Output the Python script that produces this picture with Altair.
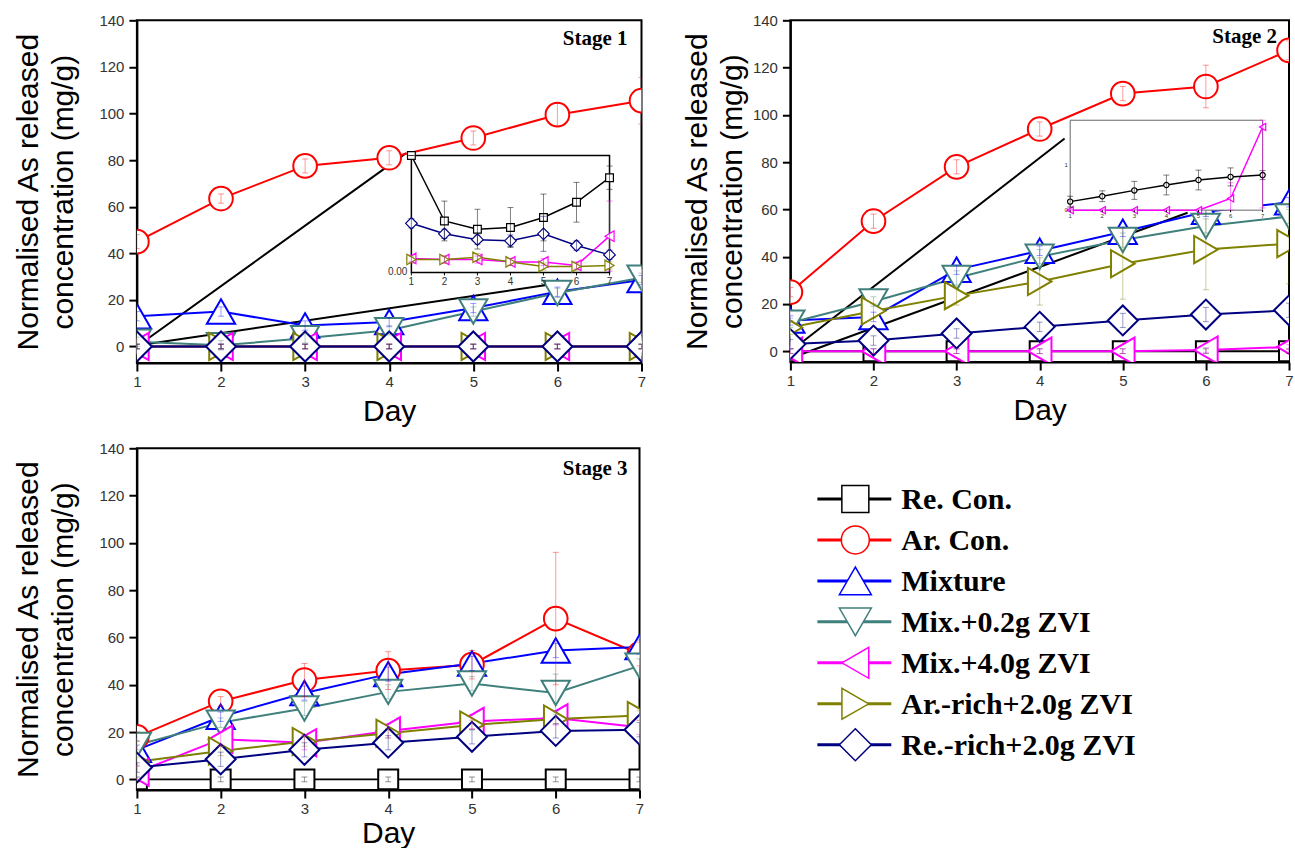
import altair as alt
import pandas as pd

# ---------------------------------------------------------------- data
DAYS = [1, 2, 3, 4, 5, 6, 7]
SERIES = ["Re. Con.", "Ar. Con.", "Mixture", "Mix.+0.2g ZVI",
          "Mix.+4.0g ZVI", "Ar.-rich+2.0g ZVI", "Re.-rich+2.0g ZVI"]
COLORS = ["#000000", "#ff0000", "#0000ff", "#3f807c",
          "#ff00ff", "#808000", "#000080"]
SHAPES = ["square", "circle", "triangle-up", "triangle-down",
          "triangle-left", "triangle-right", "diamond"]
MARKER_SIZES = [400, 560, 800, 800, 740, 740, 900]
LEGEND_SIZES = [729, 784, 1024, 1024, 960, 960, 1024]

Y_TICKS = [0, 20, 40, 60, 80, 100, 120, 140]
Y_TITLE = ["Normalised As released", "concentration (mg/g)"]
X_TITLE = "Day"

STAGE1 = {
    "Re. Con.":          [0, 0, 0, 0, 0, 0, 0],
    "Ar. Con.":          [45, 63.5, 77.5, 81, 89.5, 99.5, 105.5],
    "Mixture":           [13, 15, 9, 10.5, 16.5, 23.5, 28.5],
    "Mix.+0.2g ZVI":     [2, 0.5, 3.5, 7, 15, 23, 29.5],
    "Mix.+4.0g ZVI":     [0, 0, 0, 0, 0, 0, 0],
    "Ar.-rich+2.0g ZVI": [0, 0, 0, 0, 0, 0, 0],
    "Re.-rich+2.0g ZVI": [0, 0, 0, 0, 0, 0, 0],
}
STAGE1_ERR = {
    "Re. Con.":          [1, 1, 1, 1, 1, 1, 1],
    "Ar. Con.":          [3, 2, 3, 3, 3, 5, 10],
    "Mixture":           [2, 2, 2, 2, 2, 2, 2],
    "Mix.+0.2g ZVI":     [2, 2, 2, 2, 2, 2, 2],
    "Mix.+4.0g ZVI":     [1, 1, 1, 1, 1, 1, 1],
    "Ar.-rich+2.0g ZVI": [1, 1, 1, 1, 1, 1, 1],
    "Re.-rich+2.0g ZVI": [1, 1, 1, 1, 1, 1, 1],
}

STAGE2 = {
    "Re. Con.":          [0, 0, 0, 0, 0, 0, 0],
    "Ar. Con.":          [25, 55, 78, 94, 109, 112, 127.3],
    "Mixture":           [13, 14.5, 34.5, 42.5, 50.5, 59, 63],
    "Mix.+0.2g ZVI":     [12, 21, 31, 40, 47, 53, 57],
    "Mix.+4.0g ZVI":     [0, 0, 0, 0, 0, 0.5, 1.8],
    "Ar.-rich+2.0g ZVI": [10, 17, 23.5, 29.5, 37, 43, 45.5],
    "Re.-rich+2.0g ZVI": [3, 4.5, 7.5, 10.3, 13, 15.5, 17.3],
}
STAGE2_ERR = {
    "Re. Con.":          [1, 1, 1, 1, 1, 1, 1],
    "Ar. Con.":          [2, 3, 3, 3, 3, 9, 4],
    "Mixture":           [2, 2, 2, 2, 2, 2, 2],
    "Mix.+0.2g ZVI":     [2, 2, 3, 3, 3, 3, 3],
    "Mix.+4.0g ZVI":     [1, 1, 1, 1, 1, 1, 1],
    "Ar.-rich+2.0g ZVI": [3, 3, 4, 10, 15, 17, 17],
    "Re.-rich+2.0g ZVI": [2, 2, 2, 2, 3, 3, 3],
}

STAGE3 = {
    "Re. Con.":          [0, 0, 0, 0, 0, 0, 0],
    "Ar. Con.":          [18, 33, 42, 46, 48.5, 68, 53],
    "Mixture":           [12.5, 26.5, 36.5, 44.5, 49, 54.5, 56],
    "Mix.+0.2g ZVI":     [14.5, 24, 30, 37, 40.5, 36.5, 48],
    "Mix.+4.0g ZVI":     [3, 17, 15.5, 20.5, 24.5, 26, 22],
    "Ar.-rich+2.0g ZVI": [7.5, 12, 16, 19.5, 23, 25.5, 27],
    "Re.-rich+2.0g ZVI": [5, 8.5, 12.5, 15.5, 18, 20.5, 21],
}
STAGE3_ERR = {
    "Re. Con.":          [1, 1, 1, 1, 1, 1, 1],
    "Ar. Con.":          [2, 2, 7, 8, 6, 28, 5],
    "Mixture":           [2, 2, 3, 3, 3, 3, 3],
    "Mix.+0.2g ZVI":     [2, 2, 3, 3, 3, 8, 3],
    "Mix.+4.0g ZVI":     [3, 3, 3, 3, 3, 3, 3],
    "Ar.-rich+2.0g ZVI": [2, 2, 2, 2, 2, 2, 2],
    "Re.-rich+2.0g ZVI": [2, 3, 3, 3, 3, 3, 3],
}

# enlarged low-concentration views (insets)
INSET1 = {
    "Mix.+4.0g ZVI":     [0.12, 0.11, 0.11, 0.09, 0.09, 0.06, 0.31],
    "Ar.-rich+2.0g ZVI": [0.11, 0.11, 0.13, 0.09, 0.05, 0.05, 0.06],
    "Re.-rich+2.0g ZVI": [0.42, 0.33, 0.28, 0.27, 0.33, 0.23, 0.15],
    "Re. Con.":          [2.1, 0.44, 0.37, 0.385, 0.47, 0.60, 0.81],
}
INSET1_ERR = {
    "Mix.+4.0g ZVI":     [0.03, 0.03, 0.03, 0.03, 0.03, 0.03, 0.3],
    "Ar.-rich+2.0g ZVI": [0.03, 0.03, 0.03, 0.03, 0.03, 0.03, 0.03],
    "Re.-rich+2.0g ZVI": [0.04, 0.04, 0.04, 0.05, 0.15, 0.04, 0.04],
    "Re. Con.":          [0, 0.17, 0.17, 0.17, 0.2, 0.17, 0.1],
}
INSET2 = {
    "Mix.+4.0g ZVI": [0.0, 0.0, 0.0, 0.0, 0.0, 0.26, 1.85],
    "Re. Con.":      [0.19, 0.31, 0.44, 0.56, 0.67, 0.74, 0.78],
}
INSET2_ERR = {
    "Mix.+4.0g ZVI": [0.02, 0.02, 0.02, 0.02, 0.02, 0.35, 1.8],
    "Re. Con.":      [0.12, 0.12, 0.2, 0.22, 0.22, 0.2, 0.1],
}

# guide lines from the origin towards the enlarged view
CONNECT1 = {"x": [1, 1], "y": [0, 0.4], "x2": [4.2, 5.99], "y2": [83, 27]}
CONNECT2 = {"x": [1, 1], "y": [0, -3], "x2": [4.3, 5.78], "y2": [90, 58.6]}

# ---------------------------------------------------------------- helpers
AXIS_STYLE = dict(
    tickSize=8, tickWidth=2, tickColor="black",
    domainColor="black", domainWidth=2, grid=False,
    labelFont="Liberation Sans", labelFontSize=15, labelColor="#333333",
    labelFlush=False, labelOverlap=False,
    titleFont="Liberation Sans", titleFontSize=30, titleFontWeight="normal",
    titleColor="black",
)


def series_frame(values, errors, shapes=None, size_factor=1.0):
    rows = []
    for name, vals in values.items():
        k = SERIES.index(name)
        for d, v, e in zip(DAYS, vals, errors[name]):
            rows.append(dict(series=name, k=k, day=d, value=v, lo=v - e, hi=v + e,
                             color=COLORS[k],
                             shape=(shapes or {}).get(name, SHAPES[k]),
                             msize=MARKER_SIZES[k] * size_factor))
    return pd.DataFrame(rows)


def data_layers(df, xs, ys, line_w, pt_w, err_op, xaxis=None, yaxis=None):
    X = alt.X("day:Q", scale=xs, axis=xaxis)
    Y = alt.Y("value:Q", scale=ys, axis=yaxis)
    Xn = alt.X("day:Q", scale=xs, axis=None)
    color = alt.Color("color:N", scale=None)
    stroke = alt.Stroke("color:N", scale=None)
    lines = alt.Chart(df).mark_line(strokeWidth=line_w, clip=True).encode(
        x=X, y=Y, color=color, detail="series:N", order=alt.Order("day:Q"))
    pts = alt.Chart(df).mark_point(filled=True, fill="white", opacity=1,
                                   strokeWidth=pt_w, clip=True).encode(
        x=Xn, y=alt.Y("value:Q", scale=ys, axis=None), stroke=stroke,
        shape=alt.Shape("shape:N", scale=None),
        size=alt.Size("msize:Q", scale=None), order=alt.Order("k:Q"))
    err = alt.Chart(df).mark_rule(strokeWidth=1, opacity=err_op, clip=True).encode(
        x=Xn, y=alt.Y("lo:Q", scale=ys, axis=None), y2="hi:Q", color=color)
    caps = alt.Chart(df).transform_fold(["lo", "hi"], as_=["end", "yv"]).mark_point(
        shape="M-1,0L1,0", size=36, strokeWidth=1, opacity=err_op, filled=False,
        clip=True).encode(
        x=Xn, y=alt.Y("yv:Q", scale=ys, axis=None), stroke=stroke)
    return [lines, pts, err, caps]


def inset_layers(ins):
    ixs = alt.Scale(domain=[DAYS[0], DAYS[-1]], range=ins["xr"], nice=False, zero=False)
    iys = alt.Scale(domain=ins["ydom"], range=ins["yr"], nice=False, zero=False, clamp=True)
    box = pd.DataFrame({"x": [DAYS[0]], "x2": [DAYS[-1]],
                        "y": [ins["ydom"][0]], "y2": [ins["ydom"][1]]})
    frame = alt.Chart(box).mark_rect(fill="white", stroke=ins["frame"],
                                     strokeWidth=ins["frame_w"]).encode(
        x=alt.X("x:Q", scale=ixs, axis=None), x2="x2:Q",
        y=alt.Y("y:Q", scale=iys, axis=None), y2="y2:Q")
    df = series_frame(ins["values"], ins["errors"], shapes=ins.get("shapes"),
                      size_factor=ins["size_factor"])
    layers = [frame] + data_layers(df, ixs, iys, 1.5, 1.2, 0.5)
    xt = pd.DataFrame({"day": DAYS, "y0": ins["ydom"][0], "t": [str(d) for d in DAYS]})
    xlab = alt.Chart(xt).mark_text(font="Liberation Sans", fontSize=ins["font"],
                                   color="#333333", baseline="top",
                                   dy=ins["font"] * 0.45).encode(
        x=alt.X("day:Q", scale=ixs, axis=None), y=alt.Y("y0:Q", scale=iys, axis=None),
        text="t:N")
    ticks = alt.Chart(xt).mark_point(shape="M0,0L0,1", size=ins["tick"], stroke="black",
                                     strokeWidth=1, opacity=1, filled=False).encode(
        x=alt.X("day:Q", scale=ixs, axis=None), y=alt.Y("y0:Q", scale=iys, axis=None))
    yt = pd.DataFrame({"x0": DAYS[0], "v": ins["yticks"], "t": ins["ylabels"]})
    ylab = alt.Chart(yt).mark_text(font="Liberation Sans", fontSize=ins["font"],
                                   color="#333333", align="right", baseline="middle",
                                   dx=-ins["font"] * 0.4).encode(
        x=alt.X("x0:Q", scale=ixs, axis=None), y=alt.Y("v:Q", scale=iys, axis=None),
        text="t:N")
    return layers + [xlab, ticks, ylab]


def stage_panel(p):
    xs = alt.Scale(domain=[DAYS[0], DAYS[-1]], nice=False, zero=False)
    ys = alt.Scale(domain=p["ydom"], nice=False, zero=False)
    xaxis = alt.Axis(orient="bottom", values=DAYS, format="d", title=X_TITLE,
                     titlePadding=p["xpad"], labelPadding=3, **AXIS_STYLE)
    yaxis = alt.Axis(orient="left", values=Y_TICKS, title=Y_TITLE,
                     titlePadding=p["ypad"], labelPadding=p["lpad"],
                     titleLineHeight=35, **AXIS_STYLE)
    layers = []
    if p.get("connect"):
        layers.append(alt.Chart(pd.DataFrame(p["connect"])).mark_rule(
            color="black", strokeWidth=2).encode(
            x=alt.X("x:Q", scale=xs, axis=None), x2="x2:Q",
            y=alt.Y("y:Q", scale=ys, axis=None), y2="y2:Q"))
    df = series_frame(p["values"], p["errors"])
    layers += data_layers(df, xs, ys, 2, 2, 0.4, xaxis=xaxis, yaxis=yaxis)
    if p.get("inset"):
        layers += inset_layers(p["inset"])
    layers.append(alt.Chart(pd.DataFrame({"t": [p["label"]]})).mark_text(
        font="Liberation Serif", fontWeight="bold", fontSize=21, color="black",
        align="right", baseline="alphabetic").encode(
        x=alt.value(p["width"] - p["label_dx"]), y=alt.value(p["label_y"]), text="t:N"))
    return alt.layer(*layers).resolve_scale(x="independent", y="independent").properties(
        width=p["width"], height=p["height"])


INSET_A = dict(values=INSET1, errors=INSET1_ERR, xr=[274.7, 473], yr=[252.3, 135.3],
               ydom=[0, 1], frame="black", frame_w=1.5, size_factor=0.15, font=10,
               tick=36, yticks=[0], ylabels=["0.00"])
INSET_B = dict(values=INSET2, errors=INSET2_ERR, xr=[280, 472.6], yr=[190, 100],
               ydom=[0, 2], frame="#666666", frame_w=1, size_factor=0.07, font=6,
               tick=16, yticks=[0, 1], ylabels=["0", "1"],
               shapes={"Re. Con.": "circle"})

p1 = stage_panel(dict(label="Stage 1", values=STAGE1, errors=STAGE1_ERR,
                      ydom=[-7.1, 140], width=505, height=343, ypad=20, lpad=5,
                      xpad=7, label_y=25, label_dx=14, connect=CONNECT1, inset=INSET_A))
p2 = stage_panel(dict(label="Stage 2", values=STAGE2, errors=STAGE2_ERR,
                      ydom=[-4.6, 140], width=499, height=342, ypad=5, lpad=5,
                      xpad=7, label_y=23, label_dx=12, connect=CONNECT2, inset=INSET_B))
p3 = stage_panel(dict(label="Stage 3", values=STAGE3, errors=STAGE3_ERR,
                      ydom=[-4.5, 140], width=503, height=342, ypad=20, lpad=5,
                      xpad=3, label_y=27, label_dx=12))

# ---------------------------------------------------------------- legend
leg_df = pd.DataFrame({"series": SERIES, "idx": list(range(len(SERIES))),
                       "color": COLORS, "shape": SHAPES, "msize": LEGEND_SIZES})
ly = alt.Y("idx:Q", scale=alt.Scale(domain=[0, len(SERIES) - 1], range=[50.7, 296.7]),
           axis=None)
leg_line = alt.Chart(leg_df).mark_rule(strokeWidth=3).encode(
    x=alt.value(27), x2=alt.value(101), y=ly, color=alt.Color("color:N", scale=None))
leg_pts = alt.Chart(leg_df).mark_point(filled=True, fill="white", opacity=1,
                                       strokeWidth=1.5).encode(
    x=alt.value(65), y=ly, stroke=alt.Stroke("color:N", scale=None),
    shape=alt.Shape("shape:N", scale=None), size=alt.Size("msize:Q", scale=None))
leg_txt = alt.Chart(leg_df).mark_text(font="Liberation Serif", fontWeight="bold",
                                      fontSize=30, color="black", align="left",
                                      baseline="middle", dy=1).encode(
    x=alt.value(111), y=ly, text="series:N")
legend = alt.layer(leg_line, leg_pts, leg_txt).properties(
    width=400, height=342, view=alt.ViewBackground(strokeOpacity=0))

chart = alt.concat(p1, p2, p3, legend, columns=2, bounds="flush",
                   spacing={"row": 85.3, "column": 149}).properties(
    padding={"left": 12, "top": 12, "right": 0, "bottom": 0},
    background="white",
).configure_view(stroke="black", strokeWidth=2)

chart.save("out.html", embed_options={"renderer": "svg", "actions": False})
